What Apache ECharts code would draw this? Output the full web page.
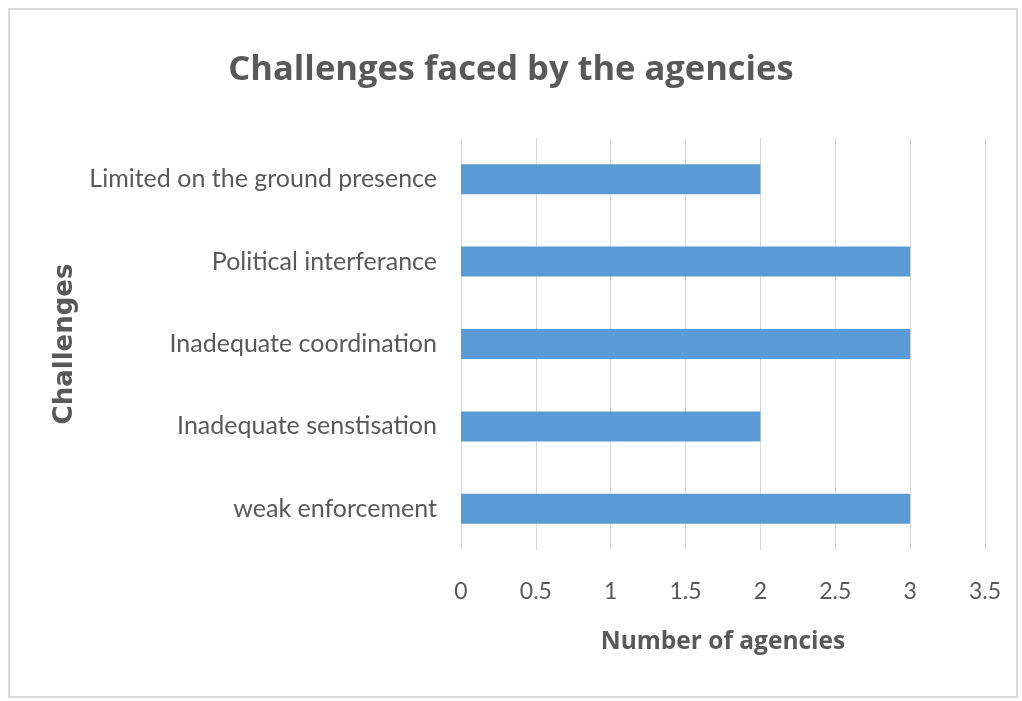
<!DOCTYPE html>
<html>
<head>
<meta charset="utf-8">
<script src="https://cdn.jsdelivr.net/npm/echarts@6/dist/echarts.min.js"></script>
<style>
  html, body { margin: 0; padding: 0; background: #fff; }
  #frame {
    position: absolute; left: 8px; top: 8px; width: 1010px; height: 690px;
    border: 2px solid #d9d9d9; box-sizing: border-box;
  }
  #chart { position: absolute; left: 0; top: 0; width: 1022px; height: 701px; }
</style>
</head>
<body>
<div id="frame"></div>
<div id="chart"></div>
<script>
// categories listed bottom to top (ECharts category axis on y starts at the bottom)
const categories = [
  'weak enforcement',
  'Inadequate senstisation',
  'Inadequate coordination',
  'Political interferance',
  'Limited on the ground presence'
];
const agencyCounts = [3, 2, 3, 3, 2];

const textGray = '#595959';

const chart = echarts.init(document.getElementById('chart'), null, { renderer: 'canvas' });

chart.setOption({
  backgroundColor: 'transparent',
  animation: false,
  title: {
    text: 'Challenges faced by the agencies',
    left: 'center',
    top: 48,
    textStyle: {
      fontFamily: 'Open Sans',
      fontWeight: 'bold',
      fontSize: 34.5,
      color: textGray
    }
  },
  grid: {
    left: 461,
    right: 37,
    top: 138,
    bottom: 151,
    containLabel: false
  },
  xAxis: {
    type: 'value',
    min: 0,
    max: 3.5,
    interval: 0.5,
    name: 'Number of agencies',
    nameLocation: 'middle',
    nameGap: 80,
    nameTextStyle: {
      fontFamily: 'Open Sans',
      fontWeight: 'bold',
      fontSize: 24.5,
      color: textGray
    },
    axisLine: { show: false },
    axisTick: { show: false },
    axisLabel: {
      margin: 30,
      fontFamily: 'Lato',
      fontSize: 23,
      color: textGray
    },
    splitLine: { lineStyle: { color: '#d9d9d9', width: 1 } }
  },
  yAxis: {
    type: 'category',
    data: categories,
    name: 'Challenges',
    nameLocation: 'middle',
    nameGap: 382,
    nameRotate: 90,
    nameTextStyle: {
      fontFamily: 'DejaVu Sans',
      fontWeight: 'bold',
      fontSize: 26,
      color: textGray
    },
    axisLine: { show: false },
    axisTick: { show: false },
    axisLabel: {
      margin: 24,
      fontFamily: 'Lato',
      fontSize: 25,
      color: textGray
    },
    splitLine: { show: false }
  },
  series: [{
    type: 'bar',
    data: agencyCounts,
    barWidth: 30,
    itemStyle: { color: '#5b9bd5' }
  }]
});
</script>
</body>
</html>
